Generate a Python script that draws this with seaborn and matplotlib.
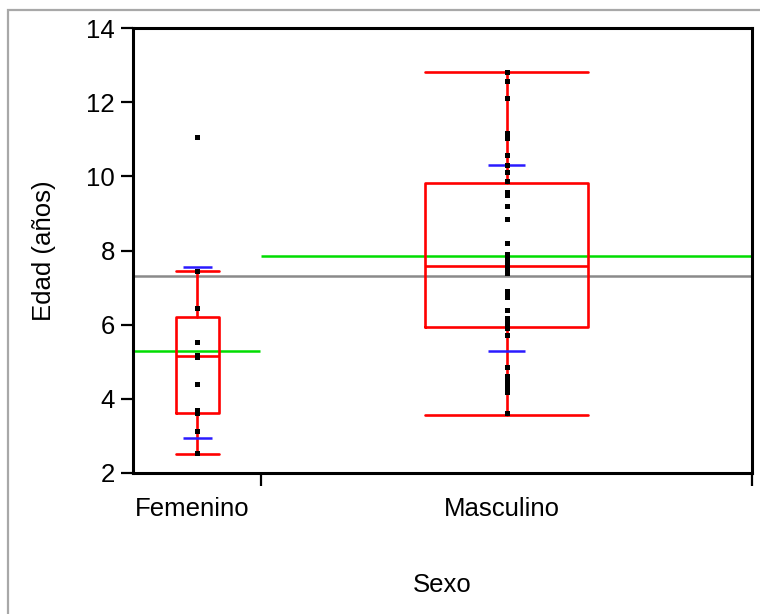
import numpy as np
import pandas as pd
import matplotlib
matplotlib.use("Agg")
import matplotlib.pyplot as plt
import matplotlib.patches as mpatches
import seaborn as sns

# ---------------- data ----------------
categories = ["Femenino", "Masculino"]

edad_femenino = [11.07, 7.46, 6.46, 5.53, 5.17, 5.12, 4.39, 3.71, 3.62, 3.13, 2.53]
edad_masculino = [12.82, 12.57, 12.11, 11.18, 11.09, 11.03, 10.58, 10.31, 10.11,
                  9.88, 9.57, 9.51, 9.19, 8.85, 8.20, 7.91, 7.78, 7.71, 7.62,
                  7.55, 7.45, 7.39, 6.92, 6.83, 6.80, 6.74, 6.39, 6.19, 6.12,
                  6.10, 6.04, 5.92, 5.73, 4.86, 4.61, 4.55, 4.46, 4.40, 4.37,
                  4.28, 4.19, 3.61]

# quantile box statistics as drawn (JMP style)
box_q1 = [3.63, 5.95]
box_median = [5.15, 7.57]
box_q3 = [6.22, 9.82]
whisker_low = [2.50, 3.57]
whisker_high = [7.44, 12.82]

group_means = [5.30, 7.84]
group_sd_upper = [7.55, 10.30]
group_sd_lower = [2.95, 5.28]
grand_mean = 7.30

yticks = [2, 4, 6, 8, 10, 12, 14]

# ---------------- figure ----------------
sns.set_theme(style="white")
plt.rcParams["font.family"] = ["Liberation Sans", "DejaVu Sans"]
plt.rcParams["text.color"] = "black"
plt.rcParams["axes.labelcolor"] = "black"
plt.rcParams["xtick.color"] = "black"
plt.rcParams["ytick.color"] = "black"

fig = plt.figure(figsize=(7.6, 6.14), dpi=100)
ax = fig.add_axes([133 / 760, 1 - 473 / 614, (752 - 133) / 760, (473 - 28) / 614])

groups = [edad_femenino, edad_masculino]
ns = [len(g) for g in groups]
total = sum(ns)
edges = np.concatenate([[0], np.cumsum(ns)])
centers = (edges[:-1] + edges[1:]) / 2

rows = []
for cat, vals, c in zip(categories, groups, centers):
    for v in vals:
        rows.append({"Sexo": cat, "Edad": v, "pos": c})
df = pd.DataFrame(rows)

# grand mean (gray)
ax.axhline(grand_mean, color="#8a8a8a", lw=1.8, zorder=1)

# group means (green) across each category width
for i in range(2):
    ax.hlines(group_means[i], edges[i], edges[i + 1] - (0.15 if i == 0 else 0),
              color="#00dd00", lw=1.8, zorder=2)

# boxes (red)
stats = []
for i in range(2):
    stats.append({"q1": box_q1[i], "med": box_median[i], "q3": box_q3[i],
                  "whislo": whisker_low[i], "whishi": whisker_high[i],
                  "fliers": []})
widths = [n / 3 for n in ns]
red = dict(color="#ff0000", linewidth=1.9)
ax.bxp(stats, positions=centers, widths=widths, showfliers=False,
       boxprops=red, whiskerprops=red, capprops=red, medianprops=red,
       capwidths=widths, manage_ticks=False, zorder=3)

# std dev marks (blue)
sd_half = [1.25, 1.6]
for i in range(2):
    for yv in (group_sd_upper[i], group_sd_lower[i]):
        ax.hlines(yv, centers[i] - sd_half[i], centers[i] + sd_half[i],
                  color="#2a1aff", lw=1.8, zorder=4)

# points
sns.stripplot(data=df, x="pos", y="Edad", native_scale=True, jitter=False,
              marker="s", size=3.6, color="black", linewidth=0, ax=ax, zorder=5)

# axes styling
ax.set_xlim(0, total)
ax.set_ylim(2, 14)
ax.set_yticks(yticks)
ax.set_yticklabels([str(t) for t in yticks])
ax.set_xticks(edges[1:])
ax.set_xticklabels(["", ""])
ax.set_xticks(centers - 0.4, minor=True)
ax.set_xticklabels(categories, minor=True)
ax.tick_params(axis="x", which="major", direction="out", length=9, width=1.6,
               color="black", bottom=True)
ax.tick_params(axis="x", which="minor", length=0, pad=17, labelsize=18.5)
ax.tick_params(axis="y", direction="out", length=9, width=1.6, color="black",
               left=True, labelsize=18.5, pad=4)
for s in ax.spines.values():
    s.set_color("black")
    s.set_linewidth(2.2)
ax.set_xlabel("Sexo", fontsize=18.5, labelpad=38)
ax.set_ylabel("Edad (años)", fontsize=18.5, labelpad=22)
ax.grid(False)

# outer gray frame
fig.patches.append(mpatches.Rectangle((8 / 760, -0.2), 1.2, 1.2 - 10 / 614,
                                      transform=fig.transFigure, fill=False,
                                      edgecolor="#a8a8a8", lw=1.6))

fig.savefig("out.png", dpi=100)
